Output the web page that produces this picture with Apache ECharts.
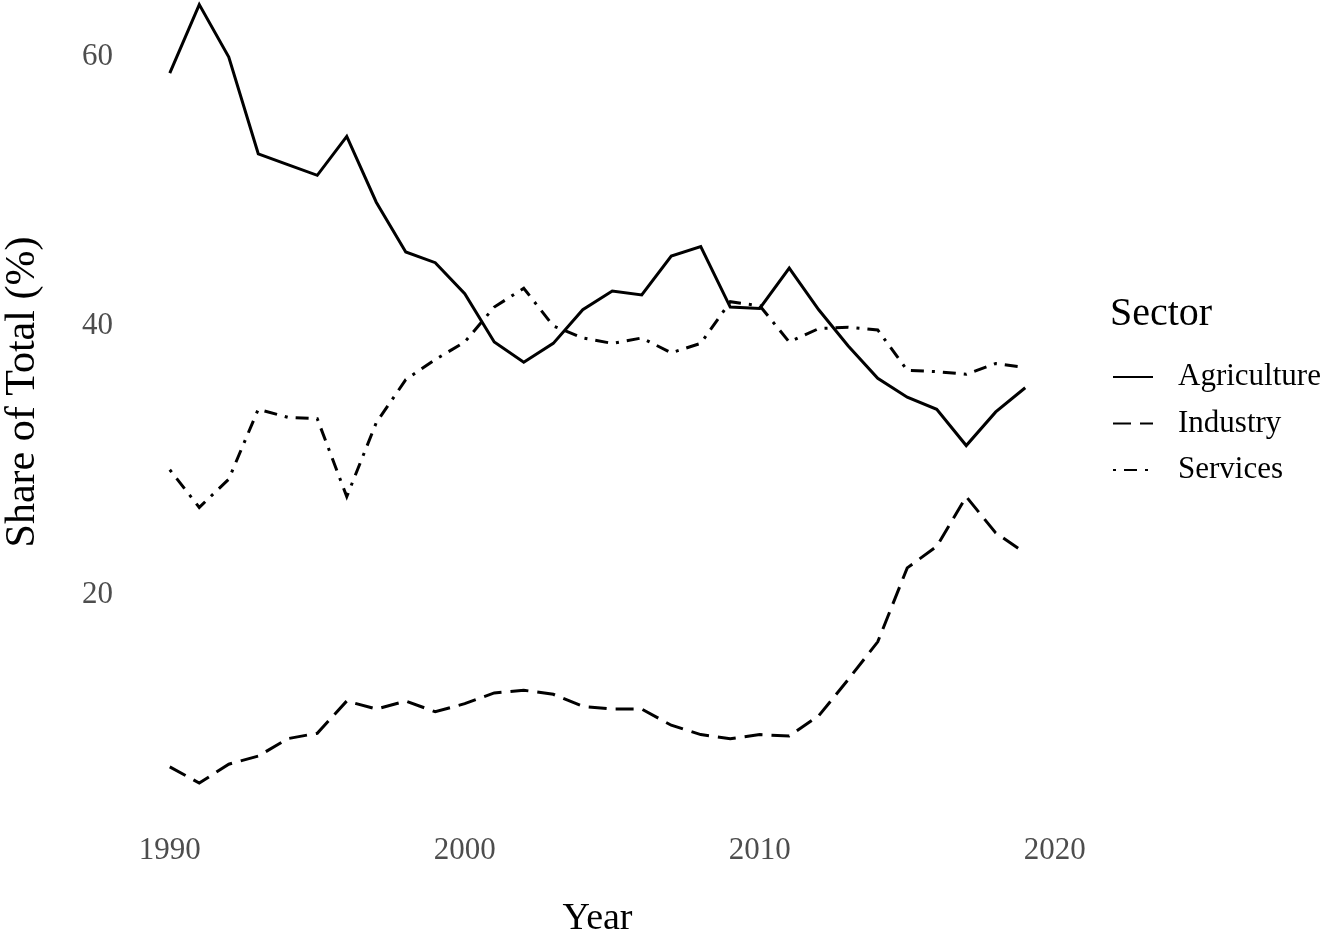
<!DOCTYPE html>
<html>
<head>
<meta charset="utf-8">
<script src="https://cdn.jsdelivr.net/npm/echarts@6/dist/echarts.min.js"></script>
<style>
  html, body { margin: 0; padding: 0; background: #ffffff; }
  #chart { width: 1327px; height: 936px; }
</style>
</head>
<body>
<div id="chart"></div>
<script>
const years = [1990,1991,1992,1993,1994,1995,1996,1997,1998,1999,2000,2001,2002,2003,2004,2005,2006,2007,2008,2009,2010,2011,2012,2013,2014,2015,2016,2017,2018,2019];
const agriculture = [58.8,63.9,60.0,52.8,52.0,51.2,54.1,49.2,45.5,44.7,42.4,38.8,37.3,38.7,41.2,42.6,42.3,45.2,45.9,41.4,41.3,44.3,41.2,38.5,36.1,34.7,33.8,31.1,33.6,35.4];
const industry = [7.2,6.0,7.4,8.0,9.3,9.7,12.1,11.5,12.1,11.3,11.9,12.7,12.9,12.6,11.7,11.5,11.5,10.3,9.6,9.3,9.6,9.5,11.0,13.7,16.5,22.0,23.6,27.3,24.6,23.1];
const services = [29.3,26.5,28.6,33.8,33.2,33.1,27.3,32.8,36.0,37.5,38.8,41.4,42.8,40.0,39.1,38.7,39.1,38.0,38.7,41.8,41.5,38.8,39.8,39.9,39.7,36.7,36.6,36.4,37.2,36.9];
const seriesNames = ['Agriculture', 'Industry', 'Services'];
const xTicks = [1990, 2000, 2010, 2020];
const yTicks = [20, 40, 60];

const pairs = arr => years.map((y, i) => [y, arr[i]]);
const FONT = "'Liberation Serif', 'Times New Roman', serif";

const chart = echarts.init(document.getElementById('chart'), null, { renderer: 'canvas' });

const lineTypes = ['solid', [18, 9], [3, 8, 13, 8]];
const seriesData = [agriculture, industry, services];

chart.setOption({
  animation: false,
  backgroundColor: '#ffffff',
  title: {
    text: 'Sector',
    left: 1110,
    top: 294,
    textStyle: { fontFamily: FONT, fontSize: 40, fontWeight: 'normal', color: '#000000' },
    padding: 0
  },
  legend: {
    orient: 'vertical',
    left: 1107,
    top: 356,
    itemWidth: 40,
    itemHeight: 14,
    itemGap: 14.5,
    data: seriesNames,
    itemStyle: { opacity: 0 },
    textStyle: { fontFamily: FONT, fontSize: 31, color: '#000000', lineHeight: 32, padding: [0, 0, 0, 20] },
    selectedMode: false
  },
  grid: { left: 127, right: 259, top: 0, bottom: 114, containLabel: false, outerBoundsMode: 'none' },
  xAxis: {
    type: 'value',
    min: 1988.55,
    max: 2020.45,
    name: 'Year',
    nameLocation: 'middle',
    nameGap: 78,
    nameTextStyle: { fontFamily: FONT, fontSize: 38, color: '#000000' },
    axisLine: { show: false },
    axisTick: { show: false },
    splitLine: { show: false },
    axisLabel: {
      customValues: xTicks,
      fontFamily: FONT, fontSize: 31, color: '#4d4d4d', margin: 13,
      formatter: v => String(v)
    }
  },
  yAxis: {
    type: 'value',
    min: 3.1,
    max: 64.24,
    axisLine: { show: false },
    axisTick: { show: false },
    splitLine: { show: false },
    axisLabel: {
      customValues: yTicks,
      fontFamily: FONT, fontSize: 31, color: '#4d4d4d', margin: 14,
      formatter: v => String(v)
    }
  },
  graphic: [{
    type: 'text',
    x: 23,
    y: 392,
    rotation: Math.PI / 2,
    style: {
      text: 'Share of Total (%)',
      font: "42px 'Liberation Serif', 'Times New Roman', serif",
      fill: '#000000',
      align: 'center',
      verticalAlign: 'middle'
    }
  }],
  series: seriesNames.map((name, k) => ({
    name: name,
    type: 'line',
    data: pairs(seriesData[k]),
    symbol: 'none',
    showSymbol: false,
    clip: false,
    lineStyle: { color: '#000000', width: 3, type: lineTypes[k], cap: 'butt', join: 'miter' },
    itemStyle: { color: '#000000' },
    emphasis: { disabled: true }
  }))
});
</script>
</body>
</html>
